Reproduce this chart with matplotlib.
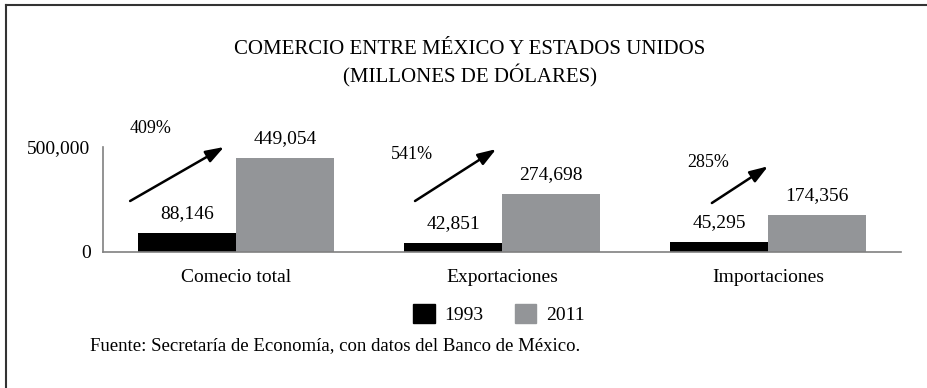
import matplotlib.pyplot as plt
from matplotlib.patches import Patch
from matplotlib.lines import Line2D

plt.rcParams['font.family'] = ['Liberation Serif', 'DejaVu Serif']

categories = ['Comecio total', 'Exportaciones', 'Importaciones']
v1993 = [88146, 42851, 45295]
v2011 = [449054, 274698, 174356]
growth = ['409%', '541%', '285%']

BLACK = '#000000'
GRAY = '#939598'

fig = plt.figure(figsize=(9.27, 3.88), dpi=100)
ax = fig.add_axes([103 / 927, 136 / 388, 798 / 927, 105 / 388])

w = 0.368
x = list(range(len(categories)))
ax.bar([i - w / 2 for i in x], v1993, width=w, color=BLACK, clip_on=False)
ax.bar([i + w / 2 for i in x], v2011, width=w, color=GRAY, clip_on=False)

for i in x:
    ax.annotate(f'{v1993[i]:,}', (i - w / 2, v1993[i]), xytext=(0, 14),
                textcoords='offset points', ha='center', va='center',
                fontsize=14, annotation_clip=False)
    ax.annotate(f'{v2011[i]:,}', (i + w / 2, v2011[i]), xytext=(0, 14),
                textcoords='offset points', ha='center', va='center',
                fontsize=14, annotation_clip=False)

# arrows and growth labels (placement per group)
arrow_from = [(-0.398, 242857), (-0.327, 242857), (-0.211, 233333)]
arrow_to = [(-0.045, 500000), (-0.022, 490000), (0.0, 408000)]
pct_pos = [(-0.323, 590476), (-0.338, 461905), (-0.226, 428571)]
for i in x:
    ax.annotate('', xy=(i + arrow_to[i][0], arrow_to[i][1]),
                xytext=(i + arrow_from[i][0], arrow_from[i][1]),
                arrowprops=dict(arrowstyle='-|>,head_length=1.1,head_width=0.38',
                                color='black', lw=1.8, shrinkA=0, shrinkB=0),
                annotation_clip=False)
    ax.text(i + pct_pos[i][0], pct_pos[i][1], growth[i], ha='center',
            va='center', fontsize=13, clip_on=False)

ax.set_xlim(-0.5, 2.5)
ax.set_ylim(0, 500000)
ax.set_yticks([0, 500000])
ax.set_yticklabels(['0', '500,000'], fontsize=14)
ax.set_xticks(x)
ax.set_xticklabels(categories, fontsize=14)
ax.tick_params(length=0, axis='y', pad=9)
ax.tick_params(length=0, axis='x', pad=12)
for s in ['top', 'right']:
    ax.spines[s].set_visible(False)
for s in ['left', 'bottom']:
    ax.spines[s].set_color('#808080')
    ax.spines[s].set_linewidth(1.2)

fig.text(470 / 927, 1 - 50 / 388, 'COMERCIO ENTRE MÉXICO Y ESTADOS UNIDOS',
         ha='center', va='center', fontsize=15)
fig.text(470 / 927, 1 - 76 / 388, '(MILLONES DE DÓLARES)',
         ha='center', va='center', fontsize=15)

handles = [Patch(color=BLACK, label='1993'), Patch(color=GRAY, label='2011')]
fig.legend(handles=handles, loc='center', bbox_to_anchor=(499 / 927, 1 - 314 / 388),
           ncol=2, frameon=False, fontsize=14, handlelength=1.1, handleheight=1.1,
           handletextpad=0.5, columnspacing=1.6)

fig.text(90 / 927, 1 - 346 / 388,
         'Fuente: Secretaría de Economía, con datos del Banco de México.',
         ha='left', va='center', fontsize=13.5)

# frame around the figure (top and left edges visible)
fig.add_artist(Line2D([6 / 927, 6 / 927], [0, 1 - 5 / 388], transform=fig.transFigure,
                      color='#333333', lw=1.5))
fig.add_artist(Line2D([6 / 927, 1], [1 - 5 / 388, 1 - 5 / 388], transform=fig.transFigure,
                      color='#333333', lw=1.5))

fig.savefig('out.png', dpi=100)
